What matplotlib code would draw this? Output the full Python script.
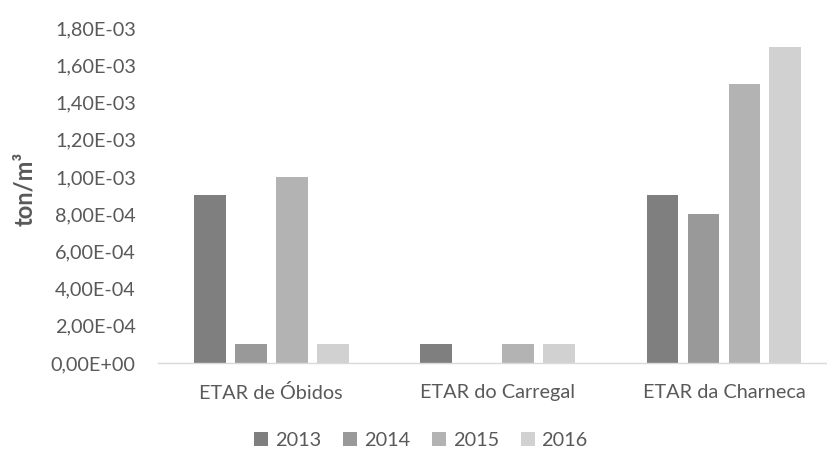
import matplotlib.pyplot as plt
import numpy as np
from matplotlib.ticker import FuncFormatter

# data
categories = ['ETAR de Óbidos', 'ETAR do Carregal', 'ETAR da Charneca']
years = ['2013', '2014', '2015', '2016']
v2013 = [9e-4, 1e-4, 9e-4]
v2014 = [1e-4, 0.0, 8e-4]
v2015 = [1e-3, 1e-4, 1.5e-3]
v2016 = [1e-4, 1e-4, 1.7e-3]
colors = ['#7f7f7f', '#999999', '#b3b3b3', '#d1d1d1']

plt.rcParams['font.family'] = ['Lato', 'DejaVu Sans']
text_col = '#595959'

fig = plt.figure(figsize=(8.27, 4.55), dpi=100)
ax = fig.add_axes([0.191, 0.2022, 0.809, 0.7363])

x = np.arange(len(categories))
step = 0.181
width = 0.141
for i, (vals, yr) in enumerate(zip([v2013, v2014, v2015, v2016], years)):
    ax.bar(x + (i - 1.5) * step, vals, width, color=colors[i], label=yr)

ax.set_xlim(-0.5, 2.455)
ax.set_ylim(0, 1.8e-3)
ax.set_yticks(np.arange(0, 1.81e-3, 2e-4))


def sci_comma(v, pos):
    s = '%.2E' % v
    return s.replace('.', ',')


ax.yaxis.set_major_formatter(FuncFormatter(sci_comma))
ax.set_xticks(x)
ax.set_xticklabels(categories)

for sp in ['top', 'right', 'left']:
    ax.spines[sp].set_visible(False)
ax.spines['bottom'].set_color('#d9d9d9')
ax.spines['bottom'].set_linewidth(1.0)
ax.tick_params(axis='both', length=0, labelsize=14.3, colors=text_col)
ax.tick_params(axis='y', pad=16)
ax.tick_params(axis='x', pad=15)

fig.text(0.03, 0.5855, 'ton/m³', rotation=90, ha='center', va='center',
         fontsize=17, fontweight='bold', color=text_col)

leg = fig.legend(loc='center', bbox_to_anchor=(0.509, 0.031), ncol=4,
                 frameon=False, fontsize=14.3, handlelength=0.7,
                 handleheight=0.7, handletextpad=0.35, columnspacing=1.1)
for t in leg.get_texts():
    t.set_color(text_col)

fig.savefig('out.png', dpi=100)
